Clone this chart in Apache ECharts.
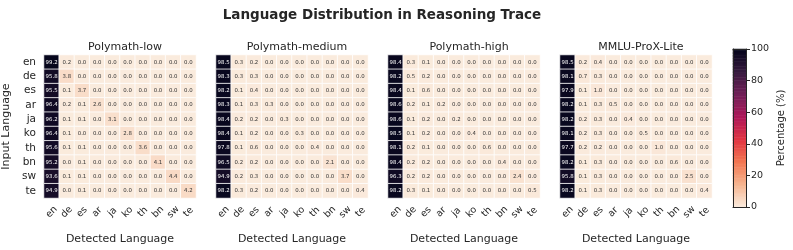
<!DOCTYPE html>
<html><head><meta charset="utf-8">
<script src="https://cdn.jsdelivr.net/npm/echarts@6/dist/echarts.min.js"></script>
<style>html,body{margin:0;padding:0;background:#fff}#c{width:793px;height:250px}</style>
</head><body><div id="c"></div>
<script>
const languages = ['en','de','es','ar','ja','ko','th','bn','sw','te'];
const panelTitles = ['Polymath-low','Polymath-medium','Polymath-high','MMLU-ProX-Lite'];
const colorbarTicks = [0,20,40,60,80,100];

const polymathLow = [
  [99.2,0.2,0.0,0.0,0.0,0.0,0.0,0.0,0.0,0.0],
  [95.8,3.8,0.0,0.0,0.0,0.0,0.0,0.0,0.0,0.0],
  [95.5,0.1,3.7,0.0,0.0,0.0,0.0,0.0,0.0,0.0],
  [96.4,0.2,0.1,2.6,0.0,0.0,0.0,0.0,0.0,0.0],
  [96.2,0.1,0.1,0.0,3.1,0.0,0.0,0.0,0.0,0.0],
  [96.4,0.1,0.0,0.0,0.0,2.8,0.0,0.0,0.0,0.0],
  [95.6,0.1,0.1,0.0,0.0,0.0,3.6,0.0,0.0,0.0],
  [95.2,0.0,0.1,0.0,0.0,0.0,0.0,4.1,0.0,0.0],
  [93.6,0.1,0.1,0.0,0.0,0.0,0.0,0.0,4.4,0.0],
  [94.9,0.0,0.1,0.0,0.0,0.0,0.0,0.0,0.0,4.2]
];
const polymathMedium = [
  [98.5,0.3,0.2,0.0,0.0,0.0,0.0,0.0,0.0,0.0],
  [98.3,0.3,0.3,0.0,0.0,0.0,0.0,0.0,0.0,0.0],
  [98.2,0.1,0.4,0.0,0.0,0.0,0.0,0.0,0.0,0.0],
  [98.3,0.1,0.3,0.3,0.0,0.0,0.0,0.0,0.0,0.0],
  [98.4,0.2,0.2,0.0,0.3,0.0,0.0,0.0,0.0,0.0],
  [98.4,0.1,0.2,0.0,0.0,0.3,0.0,0.0,0.0,0.0],
  [97.8,0.1,0.6,0.0,0.0,0.0,0.4,0.0,0.0,0.0],
  [96.5,0.2,0.2,0.0,0.0,0.0,0.0,2.1,0.0,0.0],
  [94.9,0.2,0.3,0.0,0.0,0.0,0.0,0.0,3.7,0.0],
  [98.2,0.3,0.2,0.0,0.0,0.0,0.0,0.0,0.0,0.4]
];
const polymathHigh = [
  [98.4,0.3,0.1,0.0,0.0,0.0,0.0,0.0,0.0,0.0],
  [98.2,0.5,0.2,0.0,0.0,0.0,0.0,0.0,0.0,0.0],
  [98.4,0.1,0.6,0.0,0.0,0.0,0.0,0.0,0.0,0.0],
  [98.6,0.2,0.1,0.2,0.0,0.0,0.0,0.0,0.0,0.0],
  [98.6,0.1,0.2,0.0,0.2,0.0,0.0,0.0,0.0,0.0],
  [98.5,0.1,0.2,0.0,0.0,0.4,0.0,0.0,0.0,0.0],
  [98.1,0.2,0.1,0.0,0.0,0.0,0.6,0.0,0.0,0.0],
  [98.4,0.2,0.2,0.0,0.0,0.0,0.0,0.4,0.0,0.0],
  [96.3,0.2,0.2,0.0,0.0,0.0,0.0,0.0,2.4,0.0],
  [98.2,0.3,0.1,0.0,0.0,0.0,0.0,0.0,0.0,0.5]
];
const mmluProxLite = [
  [98.5,0.2,0.4,0.0,0.0,0.0,0.0,0.0,0.0,0.0],
  [98.1,0.7,0.3,0.0,0.0,0.0,0.0,0.0,0.0,0.0],
  [97.9,0.1,1.0,0.0,0.0,0.0,0.0,0.0,0.0,0.0],
  [98.2,0.1,0.3,0.5,0.0,0.0,0.0,0.0,0.0,0.0],
  [98.2,0.2,0.3,0.0,0.4,0.0,0.0,0.0,0.0,0.0],
  [98.1,0.2,0.3,0.0,0.0,0.5,0.0,0.0,0.0,0.0],
  [97.7,0.2,0.2,0.0,0.0,0.0,1.0,0.0,0.0,0.0],
  [98.2,0.1,0.3,0.0,0.0,0.0,0.0,0.6,0.0,0.0],
  [95.8,0.1,0.3,0.0,0.0,0.0,0.0,0.0,2.5,0.0],
  [98.2,0.1,0.3,0.0,0.0,0.0,0.0,0.0,0.0,0.4]
];
const panels = [polymathLow, polymathMedium, polymathHigh, mmluProxLite];

const FONT = 'DejaVu Sans';
const TXT = '#262626';
const rocketR = ['#faebdd','#f6b48f','#f37651','#e13342','#ad1759','#701f57','#35193e','#03051a'];

const gridLefts = [44, 216, 388, 560];
const gridW = 152, gridTop = 55, gridH = 150;

const grids = [], xAxes = [], yAxes = [], series = [], titles = [];
titles.push({text:'Language Distribution in Reasoning Trace', left:377, top:3, textAlign:'center',
  textStyle:{fontFamily:FONT, fontSize:13.5, fontWeight:'bold', color:TXT}});

panels.forEach((mat, p) => {
  grids.push({left:gridLefts[p], top:gridTop, width:gridW, height:gridH});
  titles.push({text:panelTitles[p], left:gridLefts[p]+gridW/2, top:37, textAlign:'center',
    textStyle:{fontFamily:FONT, fontSize:11, fontWeight:'normal', color:TXT}});
  xAxes.push({type:'category', gridIndex:p, data:languages, position:'bottom',
    axisLine:{show:false}, axisTick:{show:false}, splitLine:{show:false},
    axisLabel:{rotate:45, align:'center', verticalAlign:'middle', fontFamily:FONT, fontSize:9.5,
      color:TXT, margin:14, interval:0},
    name:'Detected Language', nameLocation:'middle', nameGap:36,
    nameTextStyle:{fontFamily:FONT, fontSize:11, color:TXT}});
  yAxes.push({type:'category', gridIndex:p, data:languages, inverse:true,
    axisLine:{show:false}, axisTick:{show:false}, splitLine:{show:false},
    axisLabel:{show:p===0, fontFamily:FONT, fontSize:10.5, color:TXT, margin:8, interval:0},
    name: p===0 ? 'Input Language' : '', nameLocation:'middle', nameGap:32, nameRotate:90,
    nameTextStyle:{fontFamily:FONT, fontSize:11, color:TXT}});
  const data = [];
  mat.forEach((row, r) => row.forEach((v, c) => {
    data.push({value:[c, r, v], label:{color: v > 50 ? '#ffffff' : '#333333'}});
  }));
  series.push({type:'heatmap', xAxisIndex:p, yAxisIndex:p, data:data,
    itemStyle:{borderColor:'#ffffff', borderWidth:0.8},
    label:{show:true, fontFamily:FONT, fontSize:5.4,
      formatter: prm => prm.value[2].toFixed(1)},
    emphasis:{disabled:true}});
});

// colorbar as its own small grid
const cbIdx = 4;
const cbSteps = [];
for (let i = 0; i < 100; i++) cbSteps.push(i);
grids.push({left:733, top:49, width:13, height:158});
xAxes.push({type:'category', gridIndex:cbIdx, data:['c'], position:'bottom', z:5,
  axisLine:{show:true, lineStyle:{color:TXT, width:1}}, axisTick:{show:false}, axisLabel:{show:false}});
xAxes.push({type:'category', gridIndex:cbIdx, data:['c'], position:'top', z:5,
  axisLine:{show:true, lineStyle:{color:TXT, width:1}}, axisTick:{show:false}, axisLabel:{show:false}});
yAxes.push({type:'category', gridIndex:cbIdx, data:cbSteps, position:'left', z:5,
  axisLine:{show:true, lineStyle:{color:TXT, width:1}}, axisTick:{show:false}, axisLabel:{show:false}});
yAxes.push({type:'value', gridIndex:cbIdx, min:0, max:100, interval:20, position:'right', z:5,
  axisLine:{show:true, lineStyle:{color:TXT, width:1}},
  axisTick:{show:true, length:4, lineStyle:{color:TXT}}, splitLine:{show:false},
  axisLabel:{fontFamily:FONT, fontSize:9.5, color:TXT, margin:5},
  name:'Percentage (%)', nameLocation:'middle', nameGap:30, nameRotate:90,
  nameTextStyle:{fontFamily:FONT, fontSize:10, color:TXT}});
series.push({type:'heatmap', xAxisIndex:4, yAxisIndex:4,
  data: cbSteps.map(i => [0, i, i + 0.5]), label:{show:false}, emphasis:{disabled:true}});

const chart = echarts.init(document.getElementById('c'), null, {renderer:'canvas'});
chart.setOption({
  animation:false,
  backgroundColor:'#ffffff',
  title: titles,
  grid: grids,
  xAxis: xAxes,
  yAxis: yAxes,
  visualMap:{type:'continuous', min:0, max:100, show:false, inRange:{color:rocketR}},
  series: series
});
</script></body></html>
